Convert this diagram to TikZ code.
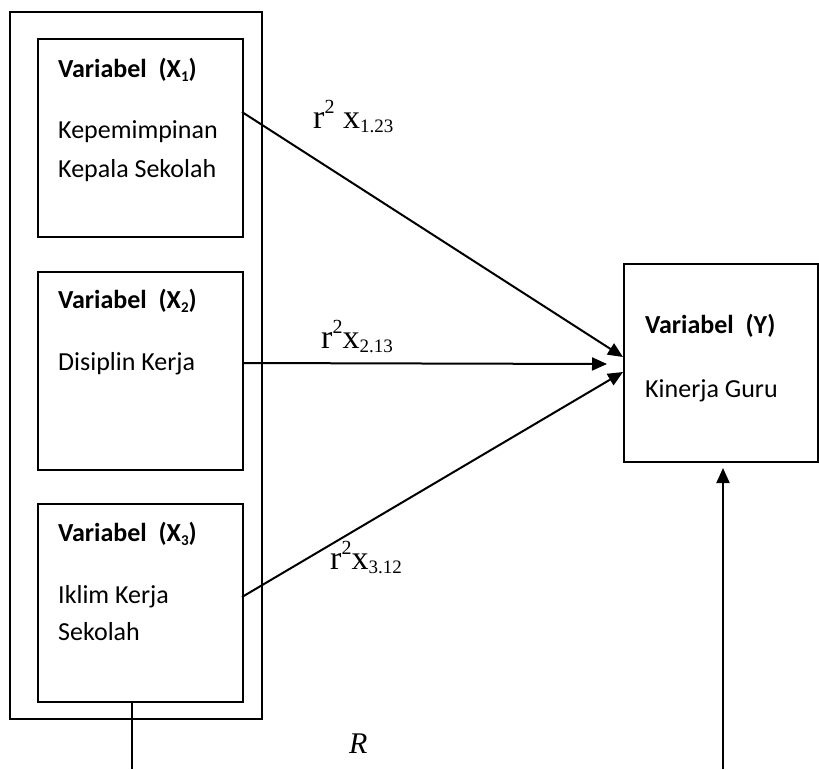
\documentclass[tikz,border=0pt]{standalone}
\usepackage{fontspec}
\setmainfont{Carlito}
\newfontfamily\tnr{Liberation Serif}
\usetikzlibrary{arrows.meta}
\tikzset{
  frame/.style={draw, line width=1.8pt},
  txt/.style={anchor=base west, inner sep=0pt, font=\fontsize{26}{30}\selectfont},
  ttl/.style={txt, font=\fontsize{26}{30}\selectfont\bfseries},
  lbl/.style={anchor=base west, inner sep=0pt, font=\tnr\fontsize{34}{34}\selectfont},
  conn/.style={line width=2pt, -{Triangle[length=15pt,width=13pt]}},
  plain/.style={line width=2pt}
}
\newcommand{\subx}[1]{\raisebox{-4pt}{\fontsize{15}{15}\selectfont #1}}
\newcommand{\lsup}[1]{\raisebox{15pt}{\fontsize{20}{20}\selectfont #1}}
\newcommand{\lsub}[1]{\raisebox{-4pt}{\fontsize{19}{19}\selectfont #1}}
\begin{document}
\begin{tikzpicture}[x=1pt,y=-1pt]
\useasboundingbox (0,0) rectangle (819,769);
% boxes
\draw[frame] (10,12) rectangle (262,719);
\node[frame, minimum width=205pt, minimum height=198pt, anchor=north west, inner sep=0pt] (b1) at (37,38) {};
\node[frame, minimum width=205pt, minimum height=198pt, anchor=north west, inner sep=0pt] (b2) at (37,271) {};
\node[frame, minimum width=205pt, minimum height=198pt, anchor=north west, inner sep=0pt] (b3) at (37,503) {};
\draw[frame] (818,264) -- (624,264) -- (624,462) -- (818,462) -- cycle;
\coordinate (yb) at (624,264);
% texts
\node[ttl] (t1) at (58,77) {Variabel\ \ (X\subx{1})};
\node[txt] (t1a) at (58,138) {Kepemimpinan};
\node[txt] (t1b) at (58,177) {Kepala Sekolah};
\node[ttl] (t2) at (58,308) {Variabel\ \ (X\subx{2})};
\node[txt] (t2a) at (58,370) {Disiplin Kerja};
\node[ttl] (t3) at (58,541) {Variabel\ \ (X\subx{3})};
\node[txt] (t3a) at (58,603) {Iklim Kerja};
\node[txt] (t3b) at (58,640) {Sekolah};
\node[ttl] (ty) at (645,333) {Variabel\ \ (Y)};
\node[txt] (tya) at (645,397) {Kinerja Guru};
% connector endpoints
\coordinate (s1) at (242,112);
\coordinate (s2) at (242,363);
\coordinate (s3) at (242,597);
\coordinate (e1) at (623,357);
\coordinate (e2) at (607,364);
\coordinate (e3) at (623,372);
\coordinate (r1) at (132,701);
\coordinate (r1b) at (132,769);
\coordinate (r2) at (723,769);
\coordinate (r2t) at (723,468);
\draw[conn] (s1) -- (e1);
\draw[conn] (s2) -- (e2);
\draw[conn] (s3) -- (e3);
\draw[plain] (r1) -- (r1b);
\draw[conn] (r2) -- (r2t);
% labels
\node[lbl] (l1) at (313,128) {r\lsup{2} x\lsub{1.23}};
\node[lbl] (l2) at (321,348) {r\lsup{2}x\lsub{2.13}};
\node[lbl] (l3) at (330,569) {r\lsup{2}x\lsub{3.12}};
\node[anchor=base west, inner sep=0pt, font=\tnr\itshape\fontsize{30}{30}\selectfont] (R) at (349,753) {R};
\end{tikzpicture}
\end{document}
